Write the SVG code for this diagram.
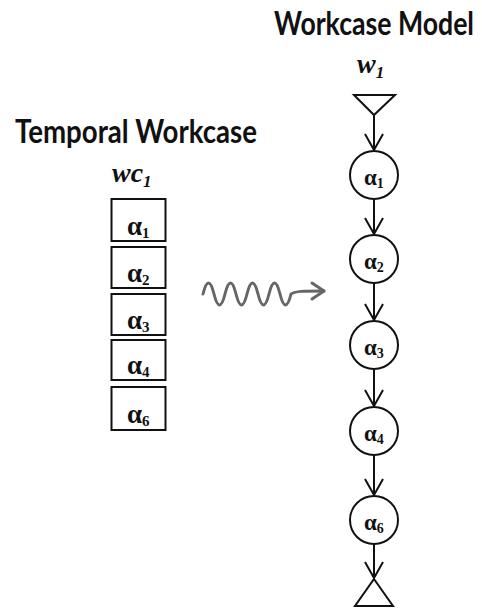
<svg xmlns="http://www.w3.org/2000/svg" width="482" height="608" viewBox="0 0 482 608">
  <style>
    .title { font-family: Lato, "Open Sans", "Liberation Sans", sans-serif; font-weight: bold; fill: #111; }
    .script { font-family: "Liberation Serif", "DejaVu Serif", serif; font-style: italic; font-weight: bold; fill: #111; }
    .lbl { font-family: "Liberation Serif", "DejaVu Serif", serif; font-weight: bold; fill: #111; }
    .shape { fill: #fff; stroke: #111; stroke-width: 2; }
    .edge { fill: none; stroke: #111; stroke-width: 2; }
    .wave { fill: none; stroke: #666; stroke-width: 3; stroke-linecap: round; stroke-linejoin: round; }
  </style>
  <defs>
    <!-- open V arrowhead for the flow edges; tip sits at the path end -->
    <marker id="vhead" viewBox="-20 -12 24 24" refX="0" refY="0" markerWidth="24" markerHeight="24" markerUnits="userSpaceOnUse" orient="auto">
      <path d="M-16,-9 L0,0 L-16,9" fill="none" stroke="#111" stroke-width="2"/>
    </marker>
    <!-- open arrowhead for the grey mapping squiggle -->
    <marker id="ghead" viewBox="-16 -12 20 24" refX="0" refY="0" markerWidth="20" markerHeight="24" markerUnits="userSpaceOnUse" orient="auto">
      <path d="M-12,-8 L0,0 L-12,8" fill="none" stroke="#666" stroke-width="3" stroke-linecap="round" stroke-linejoin="round"/>
    </marker>
  </defs>

  <rect width="482" height="608" fill="#fff"/>

  <!-- left side: temporal workcase -->
  <g id="temporal-title">
    <text class="title" transform="translate(15,143) scale(1,1.23)" x="0" y="0" font-size="26" textLength="242" lengthAdjust="spacingAndGlyphs">Temporal Workcase</text>
    <text class="script" x="112" y="182" font-size="28">wc<tspan font-size="17" dy="5">1</tspan></text>
  </g>
  <g id="wc-a1">
    <rect class="shape" x="111.5" y="199" width="54" height="42"/>
    <text class="lbl" x="127" y="235" font-size="27">α<tspan font-size="15" dy="3">1</tspan></text>
  </g>
  <g id="wc-a2">
    <rect class="shape" x="111.5" y="247" width="54" height="41"/>
    <text class="lbl" x="127" y="282" font-size="27">α<tspan font-size="15" dy="3">2</tspan></text>
  </g>
  <g id="wc-a3">
    <rect class="shape" x="111.5" y="294" width="54" height="41"/>
    <text class="lbl" x="127" y="329" font-size="27">α<tspan font-size="15" dy="3">3</tspan></text>
  </g>
  <g id="wc-a4">
    <rect class="shape" x="111.5" y="340" width="54" height="40"/>
    <text class="lbl" x="127" y="374" font-size="27">α<tspan font-size="15" dy="3">4</tspan></text>
  </g>
  <g id="wc-a6">
    <rect class="shape" x="111.5" y="387" width="54" height="43"/>
    <text class="lbl" x="127" y="423" font-size="27">α<tspan font-size="15" dy="3">6</tspan></text>
  </g>

  <!-- right side: workcase model -->
  <g id="model-title">
    <text class="title" transform="translate(274,35) scale(1,1.23)" x="0" y="0" font-size="26" textLength="200" lengthAdjust="spacingAndGlyphs">Workcase Model</text>
    <text class="script" x="357" y="73" font-size="28">w<tspan font-size="17" dy="5">1</tspan></text>
  </g>
  <g id="start">
    <path class="shape" d="M354,95 L395,95 L374,115 Z"/>
  </g>
  <g id="m-a1">
    <circle class="shape" cx="374" cy="175" r="24"/>
    <text class="lbl" x="364" y="185" font-size="23">α<tspan font-size="14" dy="3">1</tspan></text>
  </g>
  <g id="m-a2">
    <circle class="shape" cx="374" cy="259" r="24"/>
    <text class="lbl" x="364" y="269" font-size="23">α<tspan font-size="14" dy="3">2</tspan></text>
  </g>
  <g id="m-a3">
    <circle class="shape" cx="374" cy="345" r="24"/>
    <text class="lbl" x="364" y="355" font-size="23">α<tspan font-size="14" dy="3">3</tspan></text>
  </g>
  <g id="m-a4">
    <circle class="shape" cx="374" cy="431" r="24"/>
    <text class="lbl" x="364" y="441" font-size="23">α<tspan font-size="14" dy="3">4</tspan></text>
  </g>
  <g id="m-a6">
    <circle class="shape" cx="374" cy="520" r="24"/>
    <text class="lbl" x="364" y="530" font-size="23">α<tspan font-size="14" dy="3">6</tspan></text>
  </g>
  <g id="end">
    <path class="shape" d="M374,579 L393,606 L355,606 Z"/>
  </g>

  <!-- connectors -->
  <g id="connectors">
    <path class="edge" d="M374,115 L374,150" marker-end="url(#vhead)"/>
    <path class="edge" d="M374,199 L374,234" marker-end="url(#vhead)"/>
    <path class="edge" d="M374,283 L374,320" marker-end="url(#vhead)"/>
    <path class="edge" d="M374,369 L374,406" marker-end="url(#vhead)"/>
    <path class="edge" d="M374,455 L374,495" marker-end="url(#vhead)"/>
    <path class="edge" d="M374,544 L374,578" marker-end="url(#vhead)"/>
    <!-- wavy mapping arrow -->
    <path class="wave" d="M203,294 q5.5,-22 11,0 t11,0 t11,0 t11,0 t11,0 t11,0 t11,0 t11,0 C296,291 302,291 324,291" marker-end="url(#ghead)"/>
  </g>
</svg>
